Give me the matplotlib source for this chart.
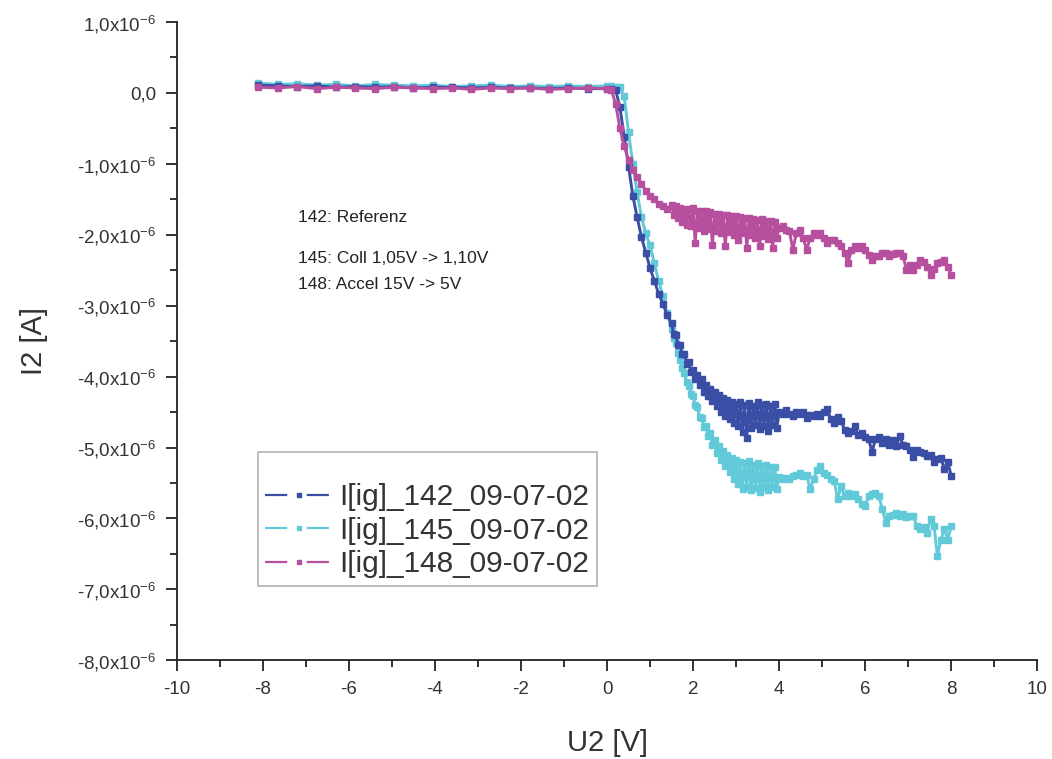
import numpy as np
import matplotlib
matplotlib.use("Agg")
import matplotlib.pyplot as plt
from matplotlib.lines import Line2D
from matplotlib.ticker import MultipleLocator, FuncFormatter

plt.rcParams['font.family'] = ['Liberation Sans', 'DejaVu Sans']
plt.rcParams['lines.scale_dashes'] = False
plt.rcParams['axes.unicode_minus'] = False

# voltage sweep grid (U2 in V): flat part, drop, noisy band, sparse tail
u_flat = np.round(np.arange(-8.1, 0.01, 0.45), 2)
u_drop = np.round(np.arange(0.1, 1.41, 0.1), 2)
u_band = np.round(np.arange(1.5, 4.001, 0.05), 2)
u_tail = np.round(np.arange(4.08, 8.001, 0.08), 2)

# currents, in 1e-6 A
i142_flat = [0.11, 0.10, 0.09, 0.10, 0.08, 0.09, 0.08, 0.09, 0.07, 0.08,
             0.08, 0.07, 0.08, 0.07, 0.07, 0.06, 0.07, 0.06, 0.06]
i142_drop = [0.06, 0.04, -0.20, -0.62, -1.05, -1.45, -1.75, -2.03, -2.25,
             -2.47, -2.65, -2.83, -2.98, -3.13]
i142_band = [-3.25, -3.40, -3.41, -3.55, -3.56, -3.68, -3.68, -3.82, -3.79, -3.93,
             -3.90, -4.04, -3.97, -4.12, -4.04, -4.21, -4.12, -4.28, -4.18, -4.35,
             -4.22, -4.42, -4.26, -4.50, -4.30, -4.55, -4.33, -4.60, -4.36, -4.65,
             -4.38, -4.70, -4.36, -4.78, -4.40, -4.86, -4.37, -4.72, -4.42, -4.68,
             -4.36, -4.74, -4.40, -4.70, -4.38, -4.76, -4.41, -4.68, -4.39, -4.72,
             -4.50]
i142_tail = [-4.52, -4.47, -4.53, -4.55, -4.50, -4.53, -4.50, -4.58, -4.54, -4.56,
             -4.52, -4.55, -4.50, -4.45, -4.60, -4.66, -4.57, -4.62, -4.75, -4.80,
             -4.77, -4.70, -4.83, -4.80, -4.85, -4.88, -5.06, -4.88, -4.85, -4.93,
             -4.88, -4.97, -4.90, -4.98, -4.84, -4.96, -4.98, -5.03, -5.14, -5.03,
             -5.06, -5.08, -5.12, -5.10, -5.20, -5.16, -5.15, -5.30, -5.20, -5.40]

i145_flat = [0.14, 0.12, 0.13, 0.11, 0.12, 0.10, 0.12, 0.11, 0.10, 0.11,
             0.09, 0.10, 0.11, 0.09, 0.10, 0.09, 0.10, 0.09, 0.10]
i145_drop = [0.10, 0.09, 0.08, -0.05, -0.55, -1.00, -1.40, -1.75, -1.98,
             -2.15, -2.40, -2.65, -2.87, -3.10]
i145_band = [-3.33, -3.45, -3.53, -3.67, -3.76, -3.88, -3.95, -4.08, -4.13, -4.24,
             -4.27, -4.40, -4.43, -4.57, -4.58, -4.71, -4.70, -4.84, -4.80, -4.96,
             -4.90, -5.07, -4.98, -5.17, -5.05, -5.26, -5.10, -5.35, -5.15, -5.45,
             -5.18, -5.52, -5.20, -5.58, -5.22, -5.55, -5.19, -5.60, -5.24, -5.57,
             -5.22, -5.62, -5.26, -5.56, -5.25, -5.60, -5.28, -5.55, -5.27, -5.58,
             -5.42]
i145_tail = [-5.45, -5.43, -5.45, -5.40, -5.38, -5.36, -5.40, -5.38, -5.59, -5.45,
             -5.31, -5.26, -5.36, -5.38, -5.45, -5.47, -5.73, -5.54, -5.69, -5.64,
             -5.69, -5.66, -5.73, -5.80, -5.83, -5.69, -5.66, -5.64, -5.69, -5.87,
             -6.06, -5.97, -5.95, -5.92, -5.96, -5.94, -5.98, -5.97, -5.97, -6.11,
             -6.15, -6.12, -6.20, -6.01, -6.11, -6.53, -6.30, -6.15, -6.30, -6.11]

i148_flat = [0.08, 0.07, 0.09, 0.06, 0.08, 0.07, 0.06, 0.08, 0.07, 0.06,
             0.07, 0.05, 0.07, 0.06, 0.07, 0.05, 0.06, 0.07, 0.06]
i148_drop = [0.04, -0.15, -0.50, -0.75, -0.95, -1.08, -1.18, -1.28, -1.38,
             -1.45, -1.50, -1.56, -1.60, -1.63]
i148_band = [-1.58, -1.72, -1.60, -1.76, -1.62, -1.82, -1.63, -1.86, -1.64, -1.88,
             -1.62, -2.12, -1.66, -1.90, -1.66, -1.95, -1.67, -1.92, -1.68, -2.15,
             -1.70, -1.94, -1.70, -1.98, -1.72, -2.16, -1.72, -1.96, -1.74, -2.00,
             -1.73, -2.08, -1.75, -1.98, -1.76, -2.18, -1.76, -2.00, -1.78, -2.04,
             -1.79, -2.16, -1.78, -2.02, -1.80, -2.06, -1.81, -2.18, -1.82, -2.04,
             -1.90]
i148_tail = [-1.88, -1.93, -1.95, -2.21, -1.98, -1.93, -2.05, -2.21, -2.05, -1.98,
             -2.00, -1.98, -2.05, -2.12, -2.08, -2.07, -2.12, -2.16, -2.25, -2.40,
             -2.22, -2.16, -2.18, -2.16, -2.22, -2.28, -2.35, -2.30, -2.30, -2.26,
             -2.26, -2.30, -2.27, -2.25, -2.26, -2.30, -2.49, -2.42, -2.49, -2.42,
             -2.35, -2.38, -2.45, -2.56, -2.48, -2.40, -2.38, -2.35, -2.45, -2.56]

labels = ['I[ig]_142_09-07-02', 'I[ig]_145_09-07-02', 'I[ig]_148_09-07-02']
colors = ['#3b4ea6', '#62c9d9', '#b64f9e']
notes = ['142: Referenz', '145: Coll 1,05V -> 1,10V', '148: Accel 15V -> 5V']
note_y = [0.694, 0.630, 0.588]

u2 = np.concatenate([u_flat, u_drop, u_band, u_tail])
series = [
    np.concatenate([i142_flat, i142_drop, i142_band, i142_tail]),
    np.concatenate([i145_flat, i145_drop, i145_band, i145_tail]),
    np.concatenate([i148_flat, i148_drop, i148_band, i148_tail]),
]

fig = plt.figure(figsize=(10.52, 7.59), dpi=100)
ax = fig.add_axes([0.168, 0.130, 0.818, 0.841])

zorders = [3, 2, 4]
for y, c, z in zip(series, colors, zorders):
    ax.plot(u2, y, color=c, lw=2.1, marker='s', ms=4.5, mec=c, zorder=z)

ax.set_xlim(-10, 10)
ax.set_ylim(-8, 1)
ax.xaxis.set_major_locator(MultipleLocator(2))
ax.xaxis.set_minor_locator(MultipleLocator(1))
ax.yaxis.set_major_locator(MultipleLocator(1))
ax.yaxis.set_minor_locator(MultipleLocator(0.5))


def fmt_y(v, pos):
    if abs(v) < 1e-9:
        return '0,0'
    return ('%.1f' % v).replace('.', ',') + r'x10$^{\mathregular{-6}}$'


ax.yaxis.set_major_formatter(FuncFormatter(fmt_y))
ax.xaxis.set_major_formatter(FuncFormatter(lambda v, p: '%d' % v))

for s in ['top', 'right']:
    ax.spines[s].set_visible(False)
for s in ['left', 'bottom']:
    ax.spines[s].set_linewidth(1.3)
    ax.spines[s].set_color('#222222')
ax.tick_params(which='major', direction='out', length=8, width=1.3,
               labelsize=13.5, colors='#222222', pad=7)
ax.tick_params(which='minor', direction='out', length=5, width=1.3, colors='#222222')
for lab in ax.get_xticklabels() + ax.get_yticklabels():
    lab.set_color('#333333')

ax.set_xlabel('U2 [V]', fontsize=21, color='#333333', labelpad=22)
ax.set_ylabel('I2 [A]', fontsize=21, color='#333333', labelpad=21)

for t, yy in zip(notes, note_y):
    ax.text(0.1407, yy, t, transform=ax.transAxes, va='center',
            fontsize=12.5, color='#222222')

handles = [Line2D([], [], color=c, lw=1.6, ls=(0, (16, 14)), marker='s',
                  ms=3.5, mec=c) for c in colors]
leg = ax.legend(handles, labels, loc='lower left', bbox_to_anchor=(0.094, 0.117),
                fontsize=21.5, title=' ', title_fontsize=15, frameon=True,
                fancybox=False, handlelength=2.25, handletextpad=0.25,
                labelspacing=0.18, borderpad=0.25, borderaxespad=0,
                numpoints=1)
leg.get_frame().set_edgecolor('#a0a0a0')
leg.get_frame().set_linewidth(1.2)
for t in leg.get_texts():
    t.set_color('#333333')

fig.savefig('out.png', dpi=100)
